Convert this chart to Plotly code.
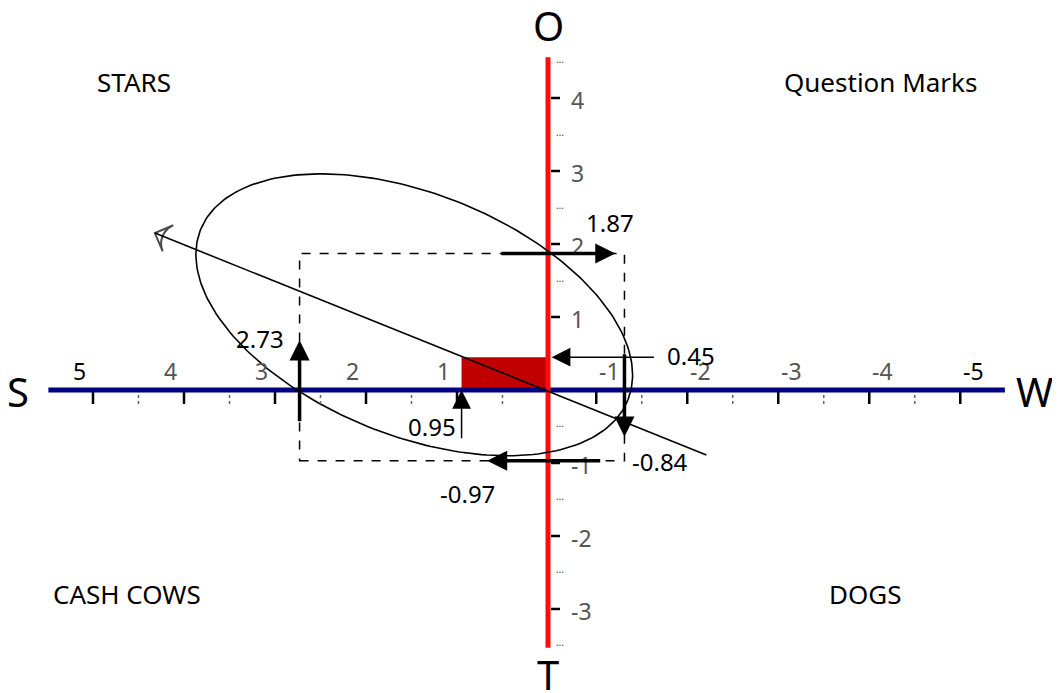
import numpy as np
import plotly.graph_objects as go

s_score = 2.73      # strengths (to the left)
w_score = -0.84     # weaknesses (to the right)
o_score = 1.87      # opportunities (up)
t_score = -0.97     # threats (down)
x_center = 0.95     # (S + W) / 2
y_center = 0.45     # (O + T) / 2

x_tick_values = [5, 4, 3, 2, 1, -1, -2, -3, -4, -5]
x_tick_labels = ["5", "4", "3", "2", "1", "-1", "-2", "-3", "-4", "-5"]
y_tick_values = [4, 3, 2, 1, -1, -2, -3]
y_tick_labels = ["4", "3", "2", "1", "-1", "-2", "-3"]
y_minor_values = [4.5, 3.5, 2.5, 1.5, -0.5, -1.5, -2.5, -3.5]

quadrant_names = ["STARS", "Question Marks", "CASH COWS", "DOGS"]
axis_letters = ["S", "W", "O", "T"]

# strategy direction line, through the origin and the centre point
trend_x = [-1.74, 4.32]
trend_y = [-0.89, 2.15]

# --- layout constants -------------------------------------------------------
# the page body has an 8px margin, so the figure is drawn 8px in from the corner
W, H = 1052, 685
X_RANGE = [5.934, -5.626]
Y_RANGE = [-4.151, 5.233]
PX_X = W / (X_RANGE[0] - X_RANGE[1])
PX_Y = H / (Y_RANGE[1] - Y_RANGE[0])
FONT = "Noto Sans"
NEG_TICK_SHIFT = 0.47   # the right-hand ticks sit half a unit inwards in the original

fig = go.Figure()
shapes = []
annotations = []

# dashed box spanned by the four totals, and the red centre box
shapes.append(dict(type="rect", xref="x", yref="y", x0=s_score, x1=w_score,
                   y0=t_score, y1=o_score, layer="below",
                   line=dict(color="black", width=1.5, dash="dash")))
shapes.append(dict(type="rect", xref="x", yref="y", x0=0, x1=x_center,
                   y0=0, y1=y_center, layer="below", fillcolor="#c00000",
                   line=dict(width=0)))

# axes
fig.add_trace(go.Scatter(x=[5.49, -5.02], y=[0, 0], mode="lines",
                         line=dict(color="#000080", width=5), hoverinfo="skip"))
fig.add_trace(go.Scatter(x=[0, 0], y=[4.56, -3.53], mode="lines",
                         line=dict(color="#ff0d0d", width=5), hoverinfo="skip"))

# ellipse (pixel semi-axes, rotated along the strategy line)
ell_cx, ell_cy = 1.47, 1.03
ell_a, ell_b, ell_deg = 230, 121, 21.7
t = np.linspace(0, 2 * np.pi, 240)
th = np.radians(ell_deg)
dx = ell_a * np.cos(t) * np.cos(th) - ell_b * np.sin(t) * np.sin(th)
dy = ell_a * np.cos(t) * np.sin(th) + ell_b * np.sin(t) * np.cos(th)
fig.add_trace(go.Scatter(x=ell_cx - dx / PX_X, y=ell_cy - dy / PX_Y, mode="lines",
                         line=dict(color="black", width=1.6), hoverinfo="skip"))

# strategy line with open arrow head
fig.add_trace(go.Scatter(x=trend_x, y=trend_y, mode="lines+markers",
                         line=dict(color="black", width=1.6),
                         marker=dict(symbol="arrow-wide-open", size=[0, 20],
                                     angleref="previous", color="black",
                                     line=dict(width=2, color="black")),
                         hoverinfo="skip"))

# x ticks
x_tick_pos = [v if v > 0 else v + NEG_TICK_SHIFT for v in x_tick_values]
for v, pos, lab in zip(x_tick_values, x_tick_pos, x_tick_labels):
    shapes.append(dict(type="line", xref="x", yref="y", ysizemode="pixel",
                       yanchor=0, x0=pos, x1=pos, y0=-2, y1=-14,
                       line=dict(color="black", width=2.5)))
    end = abs(v) == 5
    annotations.append(dict(x=pos + (0.15 if v > 0 else -0.15), y=0, yshift=19,
                            text=lab, showarrow=False,
                            font=dict(family=FONT, size=23,
                                      color="black" if end else "#555555")))
pos_side = sorted([p for p in x_tick_pos if p > 0] + [0])
neg_side = sorted([p for p in x_tick_pos if p < 0])
x_minor = [(a + b) / 2 for a, b in zip(pos_side[:-1], pos_side[1:])]
x_minor += [(a + b) / 2 for a, b in zip(neg_side[:-1], neg_side[1:])]
for m in x_minor:
    shapes.append(dict(type="line", xref="x", yref="y", ysizemode="pixel",
                       yanchor=0, x0=m, x1=m, y0=-5, y1=-15,
                       line=dict(color="#666666", width=1.5, dash="dot")))

# y ticks
for v, lab in zip(y_tick_values, y_tick_labels):
    shapes.append(dict(type="line", xref="x", yref="y", xsizemode="pixel",
                       xanchor=0, x0=3, x1=12, y0=v, y1=v,
                       line=dict(color="black", width=2.5)))
    annotations.append(dict(x=0, y=v, xshift=21, yshift=-2, xanchor="left",
                            text=lab, showarrow=False,
                            font=dict(family=FONT, size=23, color="#555555")))
for m in y_minor_values:
    annotations.append(dict(x=0, y=m, xshift=6, yshift=3, xanchor="left",
                            text="…", showarrow=False,
                            font=dict(family=FONT, size=10, color="#444444")))

# value arrows: (tail x, tail y, head x, head y, width, label, label anchor, shift)
arrows = [
    (s_score, -0.45, s_score, 0.68, 3.5, f"{s_score}", "head", (-40, 2)),
    (x_center, -0.68, x_center, 0.0, 1.5, f"{x_center}", "tail", (-30, 13)),
    (0.53, o_score, -0.74, o_score, 3.5, f"{o_score}", "head", (-5, 31)),
    (-1.18, y_center, -0.04, y_center, 1.5, f"{y_center}", "tail", (36, 2)),
    (w_score, 0.51, w_score, -0.64, 3.5, f"{w_score}", "head", (36, -25)),
    (-0.59, t_score, 0.67, t_score, 3.5, f"{t_score}", "head", (-20, -33)),
]
for tx, ty, hx, hy, wd, lab, anchor, (sx, sy) in arrows:
    annotations.append(dict(x=hx, y=hy, ax=tx, ay=ty, xref="x", yref="y",
                            axref="x", ayref="y", text="", showarrow=True,
                            arrowhead=2, arrowwidth=wd,
                            arrowsize=1.15 if wd > 2 else 2.5,
                            arrowcolor="black"))
    lx, ly = (hx, hy) if anchor == "head" else (tx, ty)
    annotations.append(dict(x=lx, y=ly, xshift=sx, yshift=sy, text=lab,
                            showarrow=False,
                            font=dict(family=FONT, size=24, color="black")))

# axis end letters
letter_pos = [(5.49, 0, -30, -2), (-5.02, 0, 30, -2), (0, 4.56, 0, 32), (0, -3.53, 0, -27)]
for txt, (lx, ly, sx, sy) in zip(axis_letters, letter_pos):
    annotations.append(dict(x=lx, y=ly, xshift=sx, yshift=sy, text=txt,
                            showarrow=False,
                            font=dict(family=FONT, size=40, color="black")))

# quadrant names (reference pixel centres, minus the 8px page margin)
quad_pos = [(134, 82), (880, 82), (127, 594), (865, 594)]
for txt, (px, py) in zip(quadrant_names, quad_pos):
    annotations.append(dict(x=(px - 8) / W, y=1 - (py - 8) / H,
                            xref="paper", yref="paper",
                            xanchor="center", yanchor="middle",
                            text=txt, showarrow=False,
                            font=dict(family=FONT, size=26, color="black")))

fig.update_layout(
    width=W, height=H,
    margin=dict(l=0, r=0, t=0, b=0),
    paper_bgcolor="white", plot_bgcolor="white",
    showlegend=False,
    xaxis=dict(range=X_RANGE, visible=False, fixedrange=True),
    yaxis=dict(range=Y_RANGE, visible=False, fixedrange=True),
    shapes=shapes,
    annotations=annotations,
)

fig.write_html("out.html")
